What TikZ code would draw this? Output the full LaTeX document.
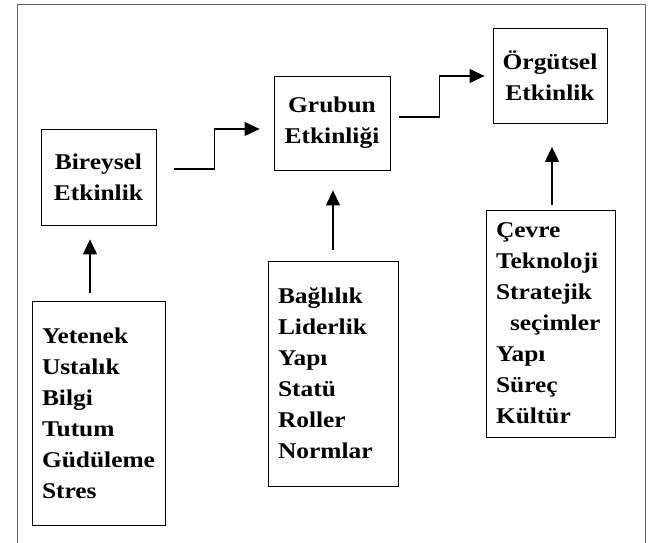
\documentclass[tikz,border=0pt]{standalone}
\usepackage{fontspec}
\setmainfont{Liberation Serif}[FakeStretch=1.13]
\usetikzlibrary{arrows.meta}

\begin{document}
\begin{tikzpicture}[x=1pt, y=1pt,
		font=\fontsize{22.5}{31}\selectfont\bfseries,
		topbox/.style={draw, line width=0.8pt, align=center, inner sep=0pt},
		listbox/.style={draw, line width=0.8pt, align=left, inner xsep=10pt},
		flow/.style={line width=1.1pt, -{Triangle[length=15pt, width=14pt]}}]
			%%%%% START %%%%%
			
			\useasboundingbox (0, 0) rectangle (649, 543);
			
			% frame
			\draw[line width=0.6pt, color=black!60] (17, 0) -- (17, 539) -- (645, 539) -- (645, 0);
			
			% outcome boxes
			\node[topbox, minimum width=115pt, minimum height=96pt] (bir) at (98.5, 366) {Bireysel\\Etkinlik};
			\node[topbox, minimum width=116pt, minimum height=94pt] (grb) at (332, 420) {Grubun\\Etkinliği};
			\node[topbox, minimum width=114pt, minimum height=95pt] (org) at (550, 467) {Örgütsel\\Etkinlik};
			
			% factor boxes
			\node[listbox, text width=113pt, minimum height=224pt] (yet) at (98.5, 130) {Yetenek\\Ustalık\\Bilgi\\Tutum\\Güdüleme\\Stres};
			\node[listbox, text width=110pt, minimum height=225pt] (bag) at (333, 169.5) {Bağlılık\\Liderlik\\Yapı\\Statü\\Roller\\Normlar};
			\node[listbox, text width=109pt, minimum height=227pt] (cev) at (550.5, 219.5) {Çevre\\Teknoloji\\Stratejik\\\hspace*{14pt}seçimler\\Yapı\\Süreç\\Kültür};
			
			% steps between levels
			\draw[flow] ([shift={(18,8)}]bir.east) -- ++(40,0) |- ([shift={(-14,-6)}]grb.west);
			\draw[flow] ([shift={(9,6)}]grb.east) -- ++(40,0) |- ([shift={(-8,0)}]org.west);
			
			% factors up to levels
			\draw[flow] ([shift={(-8.5,8)}]yet.north) -- ([shift={(-8.5,-14)}]bir.south);
			\draw[flow] ([shift={(0,11)}]bag.north) -- ([shift={(0,-20)}]bag.north |- grb.south);
			\draw[flow] ([shift={(1.5,5)}]cev.north) -- ([shift={(1.5,-23)}]cev.north |- org.south);
			
			%%%%% END %%%%%
		\end{tikzpicture}
\end{document}
